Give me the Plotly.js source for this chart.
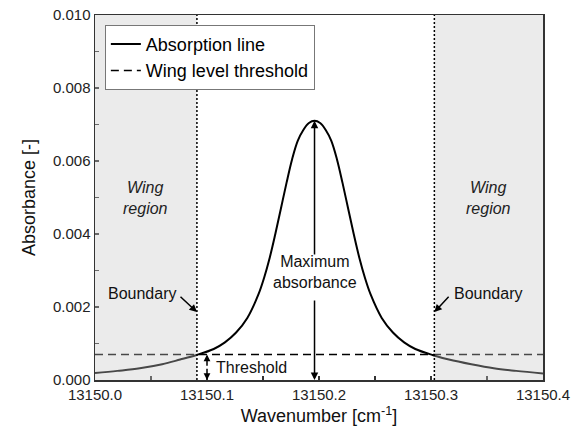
<!DOCTYPE html>
<html>
<head>
<meta charset="utf-8">
<script src="https://cdn.plot.ly/plotly-3.0.1.min.js"></script>
<style>html,body{margin:0;padding:0;background:#fff;}#chart{width:579px;height:439px;}</style>
</head>
<body>
<div id="chart"></div>
<script>
// Absorption line
const wavenumber = [13150.000, 13150.020, 13150.040, 13150.060, 13150.076, 13150.090, 13150.106, 13150.116, 13150.126, 13150.136,
  13150.146, 13150.151, 13150.156, 13150.161, 13150.166, 13150.171, 13150.176, 13150.181, 13150.186, 13150.191,
  13150.196, 13150.201, 13150.206, 13150.211, 13150.216, 13150.221, 13150.226, 13150.231, 13150.236, 13150.241,
  13150.246, 13150.256, 13150.266, 13150.276, 13150.286, 13150.302, 13150.316, 13150.336, 13150.356, 13150.376, 13150.400];
const absorbance = [0.00019, 0.00025, 0.00032, 0.00043, 0.00056, 0.00068, 0.00085, 0.00103, 0.00130, 0.00170,
  0.00235, 0.00280, 0.00335, 0.00400, 0.00470, 0.00540, 0.00605, 0.00655, 0.00685, 0.00704,
  0.00710, 0.00704, 0.00685, 0.00655, 0.00605, 0.00540, 0.00470, 0.00400, 0.00335, 0.00280,
  0.00235, 0.00170, 0.00130, 0.00103, 0.00085, 0.00068, 0.00056, 0.00043, 0.00032, 0.00025, 0.00018];
const thresholdX = [13150.0, 13150.4];
const thresholdLevel = 0.0007;
const boundaries = [13150.091, 13150.303];
const peakPosition = 13150.196;
const peakValue = 0.0071;
const xRange = [13150.0, 13150.4];
const yRange = [0, 0.01];
const seriesNames = ['Absorption line', 'Wing level threshold'];

const FONT = 'Liberation Sans, Arial, Helvetica, sans-serif';

const traces = [
  {x: wavenumber, y: absorbance, mode: 'lines', name: seriesNames[0],
   line: {color: '#000', width: 2, shape: 'spline', smoothing: 1}},
  {x: thresholdX, y: [thresholdLevel, thresholdLevel], mode: 'lines', name: seriesNames[1],
   line: {color: '#000', width: 1.5, dash: '8px,5px'}}
];

const shapes = [
  {type: 'rect', xref: 'x', yref: 'paper', x0: xRange[0], x1: boundaries[0], y0: 0, y1: 1,
   fillcolor: 'rgba(200,200,200,0.36)', line: {width: 0}, layer: 'above'},
  {type: 'rect', xref: 'x', yref: 'paper', x0: boundaries[1], x1: xRange[1], y0: 0, y1: 1,
   fillcolor: 'rgba(200,200,200,0.36)', line: {width: 0}, layer: 'above'},
  {type: 'line', xref: 'x', yref: 'paper', x0: boundaries[0], x1: boundaries[0], y0: 0, y1: 1,
   line: {color: '#000', width: 1.5, dash: '2px,2px'}, layer: 'above'},
  {type: 'line', xref: 'x', yref: 'paper', x0: boundaries[1], x1: boundaries[1], y0: 0, y1: 1,
   line: {color: '#000', width: 1.5, dash: '2px,2px'}, layer: 'above'}
];

const annFont = {family: FONT, size: 16, color: '#111'};
const arrowCommon = {showarrow: true, arrowhead: 2, arrowsize: 1, arrowwidth: 1.5, arrowcolor: '#000',
  axref: 'x', ayref: 'y', xref: 'x', yref: 'y', text: '', standoff: 0, startstandoff: 0};

const annotations = [
  {x: (xRange[0] + boundaries[0]) / 2, y: 0.005, text: '<i>Wing</i><br><i>region</i>', showarrow: false,
   font: {family: FONT, size: 16, color: '#222'}},
  {x: (boundaries[1] + xRange[1]) / 2, y: 0.005, text: '<i>Wing</i><br><i>region</i>', showarrow: false,
   font: {family: FONT, size: 16, color: '#222'}},
  {x: 13150.042, y: 0.00238, text: 'Boundary', showarrow: false, font: annFont},
  {x: 13150.351, y: 0.00238, text: 'Boundary', showarrow: false, font: annFont},
  Object.assign({}, arrowCommon, {x: boundaries[0], y: 0.00186, ax: 13150.075, ay: 0.00232}),
  Object.assign({}, arrowCommon, {x: boundaries[1], y: 0.00186, ax: 13150.317, ay: 0.00232}),
  {x: peakPosition, y: 0.00295, text: 'Maximum<br>absorbance', showarrow: false, font: annFont},
  Object.assign({}, arrowCommon, {x: peakPosition, y: peakValue, ax: peakPosition, ay: 0.00340}),
  Object.assign({}, arrowCommon, {x: peakPosition, y: 0, ax: peakPosition, ay: 0.00222}),
  {x: 13150.106, y: 0.00034, text: 'Threshold', showarrow: false, xanchor: 'left', font: annFont},
  Object.assign({}, arrowCommon, {x: 13150.1, y: thresholdLevel, ax: 13150.1, ay: 0.00035, arrowsize: 0.9}),
  Object.assign({}, arrowCommon, {x: 13150.1, y: 0, ax: 13150.1, ay: 0.00035, arrowsize: 0.9})
];

const layout = {
  width: 579, height: 439,
  margin: {l: 95, r: 36, t: 15, b: 59},
  paper_bgcolor: '#fff', plot_bgcolor: '#fff',
  font: {family: FONT, size: 15, color: '#222'},
  showlegend: true,
  legend: {x: 0.022, y: 0.973, xanchor: 'left', yanchor: 'top', bgcolor: '#fff',
    bordercolor: '#777', borderwidth: 1, font: {family: FONT, size: 18, color: '#000'},
    tracegroupgap: 0, itemwidth: 30},
  xaxis: {range: xRange, dtick: 0.1, tick0: 13150.0, tickformat: '.1f', showgrid: false, zeroline: false,
    showline: true, linecolor: '#333', linewidth: 1.5, mirror: true,
    ticks: 'inside', ticklen: 4, tickwidth: 1.5, tickcolor: '#333',
    minor: {dtick: 0.05, ticks: 'inside', ticklen: 4, tickwidth: 1.5, tickcolor: '#333', showgrid: false},
    tickfont: {family: FONT, size: 15, color: '#222'},
    title: {text: 'Wavenumber [cm<sup>-1</sup>]', font: {family: FONT, size: 18, color: '#111'}, standoff: 8}},
  yaxis: {range: yRange, dtick: 0.002, tickformat: '.3f', showgrid: false, zeroline: false,
    showline: true, linecolor: '#333', linewidth: 1.5, mirror: true,
    ticks: 'inside', ticklen: 4, tickwidth: 1.5, tickcolor: '#333',
    minor: {dtick: 0.001, ticks: 'inside', ticklen: 4, tickwidth: 1.5, tickcolor: '#333', showgrid: false},
    tickfont: {family: FONT, size: 15, color: '#222'},
    title: {text: 'Absorbance [-]', font: {family: FONT, size: 18, color: '#111'}, standoff: 12}},
  shapes: shapes,
  annotations: annotations
};

Plotly.newPlot('chart', traces, layout, {staticPlot: true, displayModeBar: false});
</script>
</body>
</html>
